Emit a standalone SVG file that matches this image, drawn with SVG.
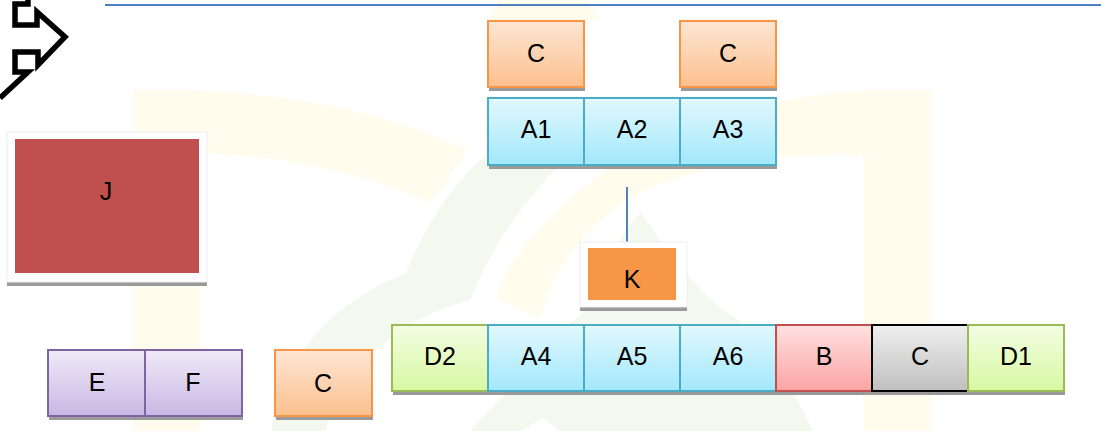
<svg xmlns="http://www.w3.org/2000/svg" width="1101" height="431" viewBox="0 0 1101 431">
<style>
.lbl{font-family:"Liberation Sans",Arial,sans-serif;font-size:25px;fill:#000;text-anchor:middle}
.sh{fill:#9a9a9a}
.cell{stroke-width:2}
.blue{fill:url(#gBlue);stroke:#4bacc6}
.org{fill:url(#gOrg);stroke:#f79646}
.gray{fill:url(#gGray);stroke:#000}
.red{fill:url(#gRed);stroke:#c0504d}
.grn{fill:url(#gGrn);stroke:#9bbb59}
.pur{fill:url(#gPur);stroke:#8064a2}
.wm-y{fill:#fffcee}
.wm-g{fill:#f4f9f0}
</style>
<defs>
<linearGradient id="gBlue" x1="0" y1="0" x2="0" y2="1"><stop offset="0" stop-color="#e2f8fe"/><stop offset="1" stop-color="#a2e8fb"/></linearGradient>
<linearGradient id="gOrg" x1="0" y1="0" x2="0" y2="1"><stop offset="0" stop-color="#fde6d4"/><stop offset="1" stop-color="#fcc08e"/></linearGradient>
<linearGradient id="gGray" x1="0" y1="0" x2="0" y2="1"><stop offset="0" stop-color="#efefef"/><stop offset="1" stop-color="#bfbfbf"/></linearGradient>
<linearGradient id="gRed" x1="0" y1="0" x2="0" y2="1"><stop offset="0" stop-color="#fee0e0"/><stop offset="1" stop-color="#fca4a4"/></linearGradient>
<linearGradient id="gGrn" x1="0" y1="0" x2="0" y2="1"><stop offset="0" stop-color="#f3fde2"/><stop offset="1" stop-color="#d8f8a2"/></linearGradient>
<linearGradient id="gPur" x1="0" y1="0" x2="0" y2="1"><stop offset="0" stop-color="#efeaf8"/><stop offset="1" stop-color="#c9b7e3"/></linearGradient>
</defs>
<rect width="1101" height="431" fill="#fff"/>
<g id="watermark">
<rect class="wm-y" x="133" y="90" width="68" height="341"/>
<rect class="wm-y" x="863" y="90" width="68" height="341"/>
<path class="wm-y" d="M133,90 Q330,86 468,150 L432,203 Q330,158 201,153 Z"/>
<path class="wm-y" d="M931,90 Q700,86 580,190 Q500,260 497,300 L540,318 Q560,240 640,192 Q740,150 863,155 Z"/>
<path class="wm-y" d="M499,0 L585,0 L600,20 L490,20 Z"/>
<path class="wm-g" d="M271,431 Q290,320 406,273 Q440,190 493,150 L566,160 Q505,215 470,300 Q360,330 325,431 Z"/>
<path class="wm-g" d="M600,300 Q610,240 641,213 Q700,300 735,317 Q780,360 813,431 L560,431 L543,418 L520,431 L470,431 Q520,380 560,330 Z"/>
</g>
<line x1="105" y1="5" x2="1101" y2="5" stroke="#4f81bd" stroke-width="2"/>
<g id="arrow-icon">
<path d="M28,0 L28,4 L15,4 L15,25 L37,25 L37,12 L65,37 L38,65 L38,52 L15,52 L15,72 L28,72 L0,98" fill="none" stroke="#000" stroke-width="5.5" stroke-linejoin="miter"/>
</g>
<g id="connectors">
<line x1="627" y1="187" x2="627" y2="245" stroke="#4f81bd" stroke-width="2"/>
</g>
<g id="C-top-left"><rect class="sh" x="489" y="25" width="96" height="66"/><rect class="cell org" x="488" y="21" width="96" height="66"/><text class="lbl" x="536" y="62">C</text></g>
<g id="C-top-right"><rect class="sh" x="681" y="25" width="96" height="66"/><rect class="cell org" x="680" y="21" width="96" height="66"/><text class="lbl" x="728" y="62">C</text></g>
<g id="A-row-top-shadow"><rect class="sh" x="489" y="102" width="288" height="67"/></g>
<g id="A1"><rect class="cell blue" x="488" y="98" width="96" height="67"/><text class="lbl" x="536" y="138">A1</text></g>
<g id="A2"><rect class="cell blue" x="584" y="98" width="96" height="67"/><text class="lbl" x="632" y="138">A2</text></g>
<g id="A3"><rect class="cell blue" x="680" y="98" width="96" height="67"/><text class="lbl" x="728" y="138">A3</text></g>
<g id="J"><rect class="sh" x="7" y="136" width="200" height="150"/><rect x="7" y="132" width="200" height="150" fill="#fff" stroke="#eeeeee"/><rect x="15" y="139" width="184" height="134" fill="#c0504d"/><text class="lbl" x="106" y="200">J</text></g>
<g id="K"><rect class="sh" x="580" y="246" width="107" height="65"/><rect x="580" y="242" width="107" height="65" fill="#fff" stroke="#eeeeee"/><rect x="588" y="248" width="88" height="52" fill="#f79646"/><text class="lbl" x="632" y="288">K</text></g>
<g id="EF-shadow"><rect class="sh" x="49" y="354" width="194" height="66"/></g>
<g id="E"><rect class="cell pur" x="48" y="350" width="97" height="66"/><text class="lbl" x="97" y="391">E</text></g>
<g id="F"><rect class="cell pur" x="145" y="350" width="97" height="66"/><text class="lbl" x="193" y="391">F</text></g>
<g id="C-bottom-left"><rect class="sh" x="276" y="354" width="97" height="66"/><rect class="cell org" x="275" y="350" width="97" height="66"/><text class="lbl" x="323" y="392">C</text></g>
<g id="bottom-row-shadow"><rect class="sh" x="393" y="329" width="672" height="66"/></g>
<g id="D2"><rect class="cell grn" x="392" y="325" width="96" height="66"/><text class="lbl" x="440" y="365">D2</text></g>
<g id="A4"><rect class="cell blue" x="488" y="325" width="96" height="66"/><text class="lbl" x="536" y="365">A4</text></g>
<g id="A5"><rect class="cell blue" x="584" y="325" width="96" height="66"/><text class="lbl" x="632" y="365">A5</text></g>
<g id="A6"><rect class="cell blue" x="680" y="325" width="96" height="66"/><text class="lbl" x="728" y="365">A6</text></g>
<g id="B"><rect class="cell red" x="776" y="325" width="96" height="66"/><text class="lbl" x="824" y="365">B</text></g>
<g id="C-bottom-gray"><rect class="cell gray" x="872" y="325" width="96" height="66"/><text class="lbl" x="920" y="365">C</text></g>
<g id="D1"><rect class="cell grn" x="968" y="325" width="96" height="66"/><text class="lbl" x="1016" y="365">D1</text></g>
</svg>
